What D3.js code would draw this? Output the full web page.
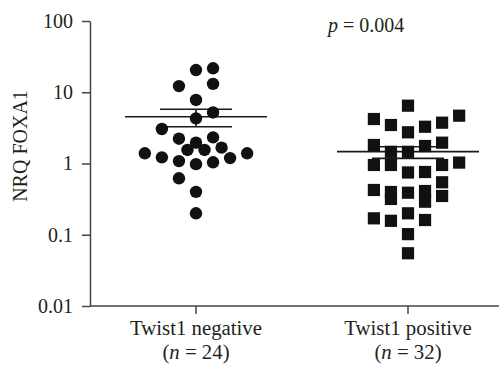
<!DOCTYPE html>
<html>
<head>
<meta charset="utf-8">
<script src="https://cdn.jsdelivr.net/npm/d3@7"></script>
<style>
  html, body { margin: 0; padding: 0; background: #fff; }
  svg { display: block; }
  text { font-family: "Liberation Serif", "DejaVu Serif", serif; fill: #231f20; }
</style>
</head>
<body>
<svg id="chart" width="500" height="366"></svg>
<script>
// ---- data ----
const categories = ["Twist1 negative", "Twist1 positive"];
const groupN = [24, 32];
const yTicks = [0.01, 0.1, 1, 10, 100];
const yTickLabels = ["0.01", "0.1", "1", "10", "100"];

// Twist1 negative: NRQ values and horizontal slot of each dot
const negValues = [20.5, 21.7, 12.2, 13.1, 7.8, 5.2, 4.3, 3.05, 2.23, 2.33, 1.96, 1.55,
                   1.55, 1.67, 1.39, 1.22, 1.08, 0.98, 1.04, 1.19, 1.39, 0.62, 0.40, 0.20];
const negSlots  = [0, 1, -1, 1, 0, 1, 0, -2, -1, 1, 0, -0.5,
                   0.5, 1.5, -3, -2, -1, 0, 1, 2, 3, -1, 0, 0];

// Twist1 positive
const posValues = [6.48, 4.21, 3.47, 2.74, 3.28, 3.74, 4.69, 1.82, 1.76, 1.96, 1.46, 1.46,
                   0.953, 0.953, 0.953, 1.03, 0.748, 0.760, 0.545, 0.425, 0.398, 0.318,
                   0.389, 0.411, 0.291, 0.350, 0.170, 0.157, 0.200, 0.161, 0.102, 0.055];
const posSlots  = [0, -2, -1, 0, 1, 2, 3, -2, 1, 2, -1, 0,
                   -2, -1, 2, 3, 0, 1, 2, -2, -1, -1,
                   0, 1, 1, 2, -2, -1, 0, 1, 0, 0];

// mean and SEM bounds per group
const means   = [4.54, 1.47];
const semHigh = [5.76, 1.72];
const semLow  = [3.28, 1.18];

const pLabel = "0.004";

// ---- drawing ----
const svg = d3.select("#chart");
const axisX0 = 90, axisRight = 499, yTop = 21, yBottom = 306;

const x = d3.scaleBand().domain(categories).range([axisX0, axisX0 + 424]).paddingInner(0).paddingOuter(0);
const cx = c => x(c) + x.bandwidth() / 2;
const y = d3.scaleLog().domain([0.01, 100]).range([yBottom, yTop]);
const slot = d3.scaleLinear().domain([0, 1]).range([0, 17.05]);

// y axis
const yAxis = d3.axisLeft(y).tickValues(yTicks).tickFormat((d, i) => yTickLabels[i])
  .tickSize(8).tickPadding(9).tickSizeOuter(0);
const gy = svg.append("g").attr("transform", `translate(${axisX0},0)`).call(yAxis);
gy.select(".domain").attr("stroke", "#444").attr("stroke-width", 1.5);
gy.selectAll(".tick line").attr("stroke", "#444").attr("stroke-width", 1.5);
gy.selectAll(".tick text").style("font-size", "20px").attr("fill", "#231f20")
  .style("font-family", "'Liberation Serif', serif");

// x axis
const xAxis = d3.axisBottom(x).tickSize(8).tickSizeOuter(0).tickFormat("");
const gx = svg.append("g").attr("transform", `translate(0,${yBottom})`).call(xAxis);
gx.select(".domain").attr("d", `M${axisX0},0H${axisRight}`).attr("stroke", "#444").attr("stroke-width", 1.5);
gx.selectAll(".tick line").attr("stroke", "#444").attr("stroke-width", 1.5);

// x labels
categories.forEach((c, i) => {
  svg.append("text").attr("x", cx(c)).attr("y", 335).attr("text-anchor", "middle")
    .style("font-size", "20.8px").text(c);
  const t = svg.append("text").attr("x", cx(c)).attr("y", 359).attr("text-anchor", "middle")
    .style("font-size", "20.8px");
  t.append("tspan").text("(");
  t.append("tspan").style("font-style", "italic").text("n");
  t.append("tspan").text(" = " + groupN[i] + ")");
});

// y label
svg.append("text").attr("transform", `translate(26.5,146) rotate(-90)`)
  .attr("text-anchor", "middle").style("font-size", "20px").text("NRQ FOXA1");

// p value
const pt = svg.append("text").attr("x", 328).attr("y", 32).style("font-size", "20px");
pt.append("tspan").style("font-style", "italic").text("p");
pt.append("tspan").text(" = " + pLabel);

// mean / SEM lines
const lineColor = "#1a1a1a";
categories.forEach((c, i) => {
  const g = svg.append("g").attr("stroke", lineColor).attr("stroke-width", 1.6);
  g.append("line").attr("x1", cx(c) - 71).attr("x2", cx(c) + 71).attr("y1", y(means[i])).attr("y2", y(means[i]));
  g.append("line").attr("x1", cx(c) - 36).attr("x2", cx(c) + 36).attr("y1", y(semHigh[i])).attr("y2", y(semHigh[i]));
  g.append("line").attr("x1", cx(c) - 36).attr("x2", cx(c) + 36).attr("y1", y(semLow[i])).attr("y2", y(semLow[i]));
  g.append("line").attr("x1", cx(c)).attr("x2", cx(c)).attr("y1", y(semHigh[i])).attr("y2", y(semLow[i]));
});

// points: negative (circles)
const negData = negValues.map((v, i) => ({ v, s: negSlots[i] }));
svg.append("g").selectAll("circle").data(negData).join("circle")
  .attr("cx", d => cx(categories[0]) + slot(d.s))
  .attr("cy", d => y(d.v))
  .attr("r", 6.2)
  .attr("fill", "#111");

// points: positive (squares)
const posData = posValues.map((v, i) => ({ v, s: posSlots[i] }));
const sq = 12.2;
svg.append("g").selectAll("rect").data(posData).join("rect")
  .attr("x", d => cx(categories[1]) + slot(d.s) - sq / 2)
  .attr("y", d => y(d.v) - sq / 2)
  .attr("width", sq).attr("height", sq)
  .attr("fill", "#111");
</script>
</body>
</html>
